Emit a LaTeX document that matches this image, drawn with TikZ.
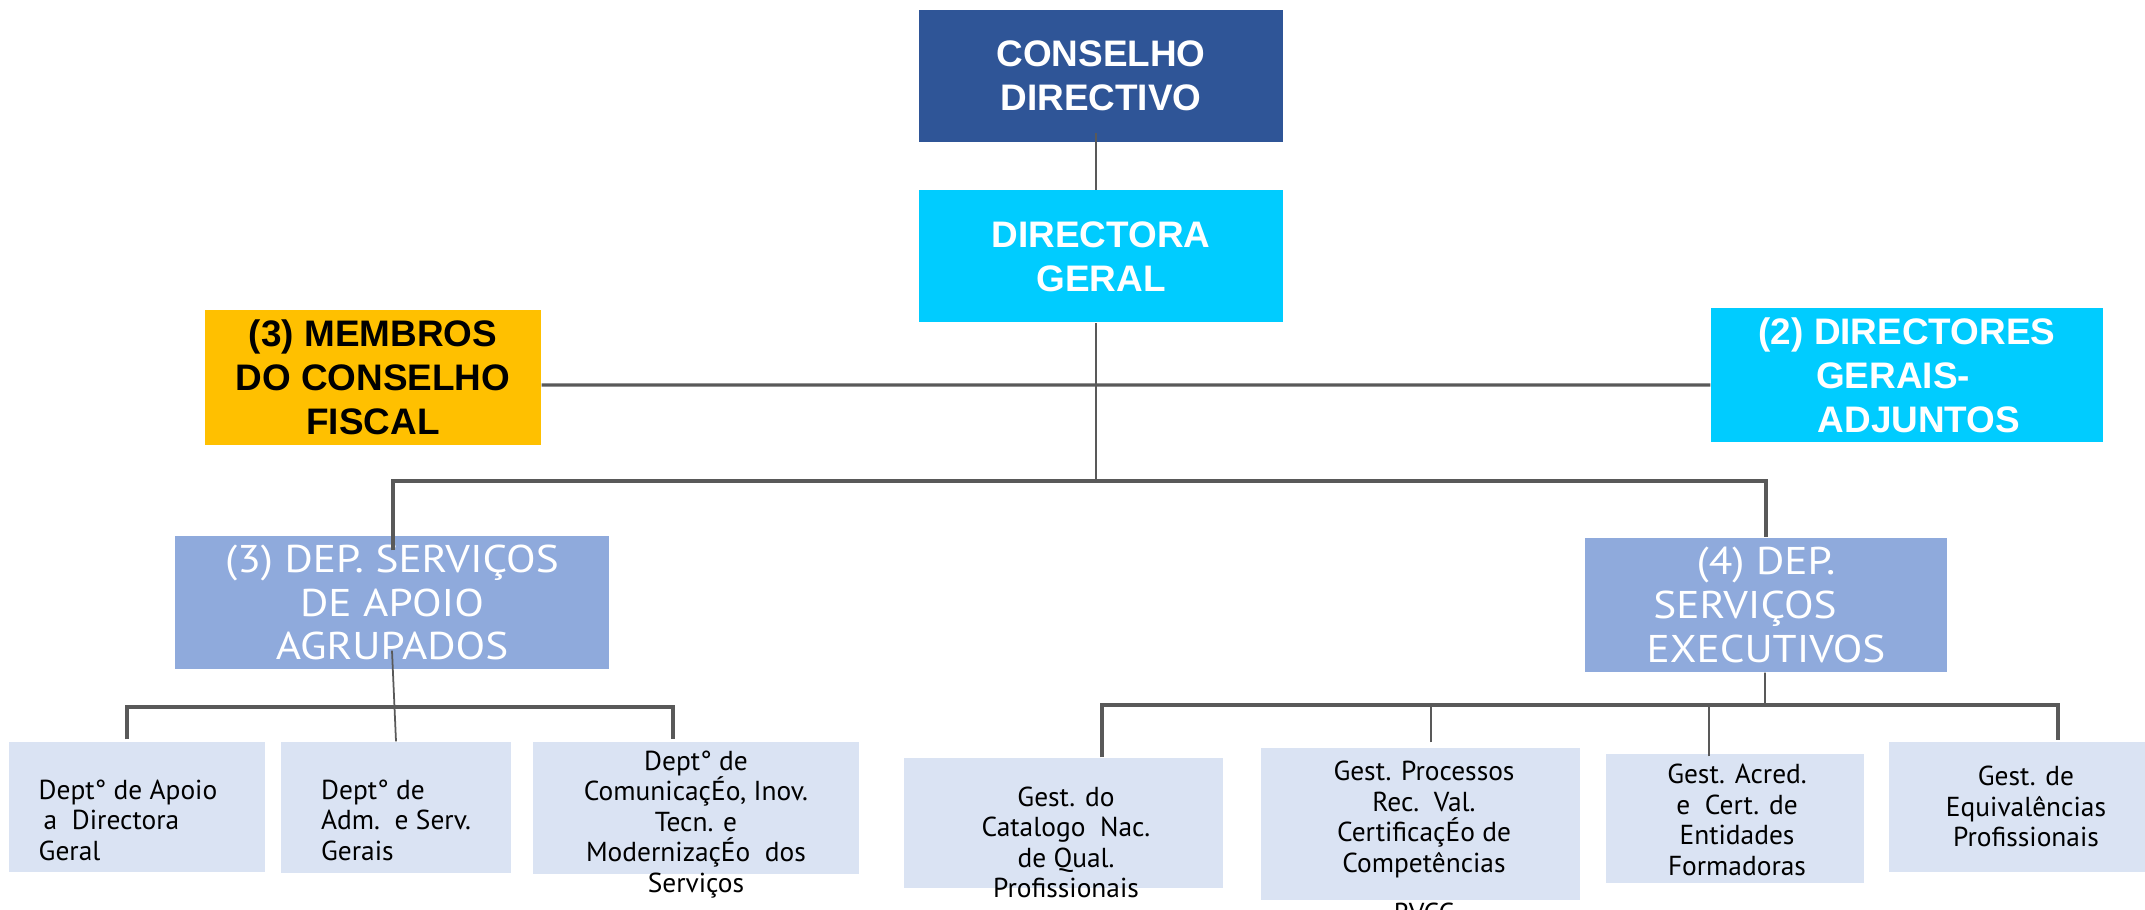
\documentclass[tikz,border=0pt]{standalone}
\usepackage{fontspec}
\setmainfont{Liberation Sans}
\newfontfamily\dinfont{PT Sans}
\newfontfamily\depfont[FakeStretch=1.12]{PT Sans}
\definecolor{boardblue}{HTML}{2F5597}
\definecolor{headcyan}{HTML}{00CCFF}
\definecolor{fiscalgold}{HTML}{FFC000}
\definecolor{depblue}{HTML}{8FAADC}
\definecolor{unitblue}{HTML}{DAE3F3}
\definecolor{linegrey}{HTML}{595959}

\begin{document}
\begin{tikzpicture}[
    topbox/.style={rectangle, inner sep=0pt, align=center, text=white,
        font=\bfseries\fontsize{10.5}{12.5}\selectfont,
        minimum width=3.64cm, minimum height=1.32cm},
    dep/.style={rectangle, inner sep=0pt, align=center, fill=depblue, text=white,
        font=\depfont\fontsize{11}{12.5}\selectfont, minimum height=1.34cm},
    unitbox/.style={rectangle, fill=unitblue, inner sep=0pt},
    unittext/.style={inner sep=0pt, align=center,
        font=\dinfont\fontsize{7.8}{8.7}\selectfont},
    link/.style={draw=linegrey, line width=0.5pt},
    busline/.style={draw=linegrey, line width=0.9pt}]

    \useasboundingbox (0,0) rectangle (21.45,-9.10);

    \node[topbox, fill=boardblue] (cd) at (11.01,-0.76) {CONSELHO\\DIRECTIVO};
    \node[topbox, fill=headcyan, below of=cd, node distance=1.805cm] (dg) {DIRECTORA\\GERAL};
    \node[topbox, fill=fiscalgold, text=black, minimum width=3.36cm, minimum height=1.35cm]
        (fiscal) at (3.73,-3.775) {(3) MEMBROS\\DO CONSELHO\\FISCAL};
    \node[topbox, fill=headcyan, minimum width=3.92cm, minimum height=1.34cm]
        (adj) at (19.07,-3.75) {(2) DIRECTORES\\GERAIS-\hspace*{0.28cm}\mbox{}\\\mbox{}\hspace*{0.24cm}ADJUNTOS};

    \node[dep, minimum width=4.34cm, minimum height=1.33cm] (apoio) at (3.92,-6.025)
        {(3) DEP. SERVIÇOS\\DE APOIO\\AGRUPADOS};
    \node[dep, minimum width=3.62cm] (exec) at (17.66,-6.05)
        {(4) DEP.\\SERVIÇOS\hspace*{0.42cm}\mbox{}\\EXECUTIVOS};

    \node[unitbox, minimum width=2.56cm, minimum height=1.30cm] (la) at (1.37,-8.07) {};
    \node[unitbox, minimum width=2.30cm, minimum height=1.31cm] (lb) at (3.96,-8.075) {};
    \node[unitbox, minimum width=3.26cm, minimum height=1.32cm] (lc) at (6.96,-8.08) {};
    \node[unitbox, minimum width=3.19cm, minimum height=1.30cm] (ra) at (10.635,-8.23) {};
    \node[unitbox, minimum width=3.19cm, minimum height=1.52cm] (rb) at (14.205,-8.24) {};
    \node[unitbox, minimum width=2.58cm, minimum height=1.29cm] (rc) at (17.35,-8.185) {};
    \node[unitbox, minimum width=2.56cm, minimum height=1.30cm] (rd) at (20.17,-8.07) {};

    \node[unittext, align=left, xshift=-0.09cm, yshift=-0.13cm] (la-t) at (la)
        {Dept° de Apoio\\\hspace*{0.05cm}a~~Directora\\Geral};
    \node[unittext, align=left, yshift=-0.125cm] (lb-t) at (lb)
        {Dept° de\\Adm.~~e Serv.\\Gerais};
    \node[unittext, yshift=-0.165cm] (lc-t) at (lc)
        {Dept° de\\ComunicaçÉo, Inov.\\Tecn. e\\ModernizaçÉo~~dos\\Serviços};
    \node[unittext, xshift=0.025cm, yshift=-0.195cm] (ra-t) at (ra)
        {Gest. do\\Catalogo~~Nac.\\de Qual.\\Profissionais};
    \node[unittext, xshift=0.035cm, yshift=-0.18cm] (rb-t) at (rb)
        {Gest. Processos\\Rec.~~Val.\\CertificaçÉo de\\Competências\\[5.5pt]RVCC};
    \node[unittext, xshift=0.02cm, yshift=-0.015cm] (rc-t) at (rc)
        {Gest. Acred.\\e~~Cert. de\\Entidades\\Formadoras};
    \node[unittext, xshift=0.09cm, yshift=0.005cm] (rd-t) at (rd)
        {Gest. de\\Equivalências\\Profissionais};

    \coordinate (busT) at (10.96,-4.81);
    \coordinate (busL) at (3.91,-7.07);
    \coordinate (busR) at (17.65,-7.05);

    \draw[link] ([xshift=-0.05cm,yshift=0.1cm]cd.south) -- ([xshift=-0.05cm]dg.north);
    \draw[link] ([xshift=-0.05cm]dg.south) -- (busT);
    \draw[busline] ([yshift=-0.075cm]fiscal.east) -- ([yshift=-0.1cm]adj.west);
    \draw[busline] ([xshift=0.01cm,yshift=-0.15cm]apoio.north) |- (busT) -| (exec.north);

    \draw[link] ([yshift=0.19cm]apoio.south) -- (lb.north);
    \draw[busline] ([xshift=-0.1cm,yshift=0.02cm]la.north) |- (busL)
        -| ([xshift=-0.23cm,yshift=0.02cm]lc.north);

    \draw[link] ([xshift=-0.01cm]exec.south) -- (busR);
    \draw[busline] ([xshift=0.385cm]ra.north) |- (busR)
        -| ([xshift=0.41cm,yshift=0.01cm]rd.north);
    \draw[link] ([xshift=0.105cm,yshift=0.05cm]rb.north) |- (busR);
    \draw[link] ([xshift=-0.26cm,yshift=-0.03cm]rc.north) |- (busR);
\end{tikzpicture}
\end{document}
